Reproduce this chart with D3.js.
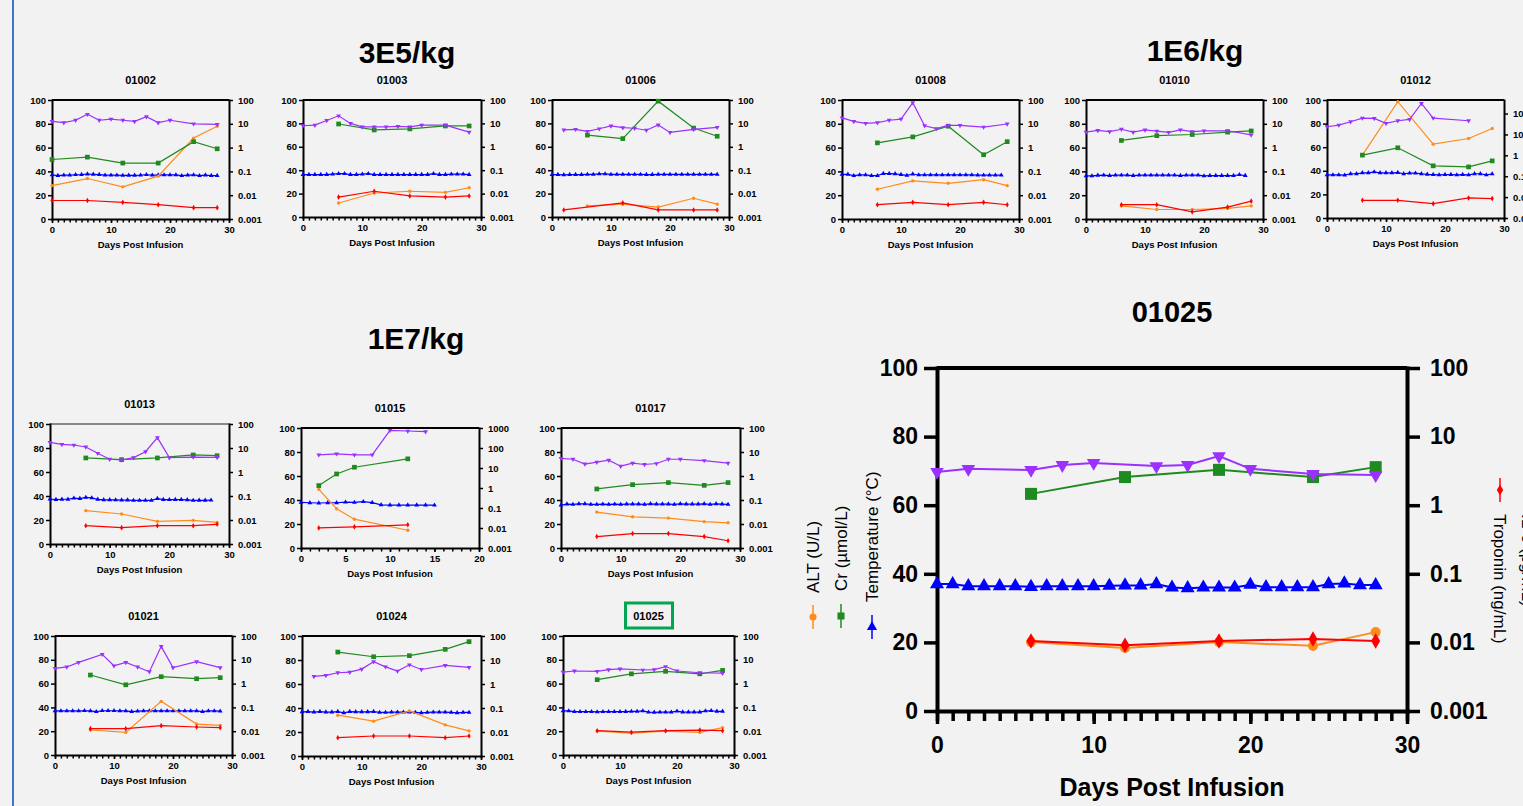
<!DOCTYPE html>
<html>
<head>
<meta charset="utf-8">
<script src="https://cdn.jsdelivr.net/npm/d3@7"></script>
<style>
  body { margin: 0; background: #f2f2f2; }
  svg { display: block; font-family: "Liberation Sans", Arial, sans-serif; }
</style>
</head>
<body>
<svg id="chart" width="1523" height="806"></svg>
<script>
// ---- data (ALT U/L, Cr umol/L, Temp C on left axis; Troponin ng/mL, IL-6 pg/mL on right log axis)
const labDays = [6, 12, 18, 24, 28];
const il6DaysStd = [0, 2, 4, 6, 8, 10, 12, 14, 16, 18, 20, 24, 28];

const labDays01002 = [0, 6, 12, 18, 24, 28];
const alt01002 = [28, 34, 27, 36, 68, 78];
const cr01002 = [50, 52, 47, 47, 65, 59];
const trop01002 = [0.006, 0.006, 0.005, 0.004, 0.003, 0.003];
const il6_01002 = [12.6, 11.2, 14.1, 25.1, 14.1, 15.8, 14.1, 12.6, 20, 11.2, 14.1, 10, 9.4];
const temp01002 = [37, 36.5, 36.8, 36.8, 37.2, 37.3, 37.8, 37.5, 37.3, 36.8, 36.8, 36.8, 36.6, 36.7, 36.7, 36.8, 37.2, 36.8, 36.9, 37, 37, 37, 36.4, 36.8, 37, 36.4, 36.9, 36.5, 36.5];

const alt01003 = [12, 20.5, 22, 21, 25];
const cr01003 = [79.5, 74.4, 75.3, 77.8, 77.8];
const trop01003 = [0.00708, 0.0126, 0.00794, 0.00708, 0.00794];
const il6_01003 = [7.94, 8.41, 13.3, 21.1, 10, 7.08, 7.08, 7.08, 7.5, 7.08, 8.41, 8.41, 4.22];
const temp01003 = [36.3, 36.3, 36.3, 36.3, 36.3, 36.6, 37, 37, 36.3, 36.3, 36.6, 37, 36.3, 36.3, 36.3, 36.3, 36.3, 36.3, 36.3, 36.3, 36.3, 36.2, 37, 36.3, 36.3, 36.6, 36.6, 36.6, 36.3];

const alt01006 = [9.5, 11, 8.5, 16, 11];
const cr01006 = [70, 67, 99, 76, 69];
const tropDays01006 = [2, 12, 18, 24, 28];
const trop01006 = [0.002, 0.004, 0.002, 0.002, 0.002];
const il6Days01006 = [2, 4, 6, 8, 10, 12, 14, 16, 18, 20, 24, 28];
const il6_01006 = [5.3, 5.6, 4.6, 5.9, 7.8, 6.6, 6.2, 5.1, 8.6, 4.1, 5.6, 6.8];
const temp01006 = [36.2, 36.2, 36, 36.2, 36.2, 36.2, 36.4, 36.4, 36.8, 36.8, 36.4, 36.4, 36.4, 36.4, 36.4, 36.4, 36.2, 36.2, 36.4, 36.4, 36.4, 36.4, 36.4, 36.4, 36.4, 36.4, 36.4, 36.4, 36.4];

const alt01008 = [25, 32, 30, 33, 28];
const cr01008 = [64, 69, 78, 54, 65];
const trop01008 = [0.00398, 0.005, 0.00398, 0.005, 0.00398];
const il6_01008 = [17.8, 12.6, 10.5, 11.2, 14.1, 15.8, 77.6, 8.3, 6.3, 8.6, 8.6, 7.3, 9.8];
const temp01008 = [37.5, 37.5, 36.4, 37, 37, 36.4, 36.4, 38.2, 38.2, 38, 37.3, 36.6, 37.8, 37, 37, 37, 37, 37, 37, 37, 37, 37, 37, 36.8, 36.8, 36.8, 36.8, 36.8];

const alt01010 = [11, 8, 8, 9, 11];
const cr01010 = [66, 70, 71, 73, 74];
const trop01010 = [0.00398, 0.00398, 0.002, 0.00316, 0.00562];
const il6_01010 = [4.47, 5.3, 4.7, 5.9, 4.47, 5.5, 4.9, 4.4, 5.6, 4.7, 5.0, 5.1, 3.4];
const temp01010 = [36.2, 36.2, 36.7, 36.8, 36.5, 36.8, 36.8, 36.8, 36.5, 36.8, 36.8, 36.8, 36.8, 36.8, 36.8, 36.8, 36.5, 36.8, 36.8, 36.8, 36.2, 36.5, 36.5, 36.5, 36.5, 36.5, 37.2, 36.5];

const alt01012 = [53.3, 98.6, 62.6, 67.4, 75.9];
const cr01012 = [53.3, 59.5, 44.2, 43.3, 48.4];
const trop01012 = [0.00705, 0.00705, 0.00487, 0.00912, 0.0085];
const il6Days01012 = [0, 2, 4, 6, 8, 10, 12, 14, 16, 18, 24];
const il6_01012 = [23.3, 28, 40.5, 60.8, 58.6, 33.7, 45.3, 52.5, 307, 60.8, 45.3];
const temp01012 = [36.5, 36.5, 36.5, 36.3, 37.5, 37.5, 38.3, 38.3, 39, 38.3, 38.3, 38.3, 38.5, 37.5, 38, 38, 37.5, 37, 36.8, 36.5, 36.8, 36.8, 36.5, 36.8, 36.5, 37.5, 37.5, 36.5, 37.3];

const alt01013 = [27.8, 25, 18.9, 19.7, 18];
const cr01013 = [71.7, 70.3, 71.7, 74.2, 73.6];
const trop01013 = [0.0058, 0.0048, 0.0058, 0.0058, 0.0066];
const il6_01013 = [17.1, 14.1, 13.3, 11, 6.0, 3.4, 3.16, 3.98, 7.0, 27, 3.98, 4.2, 4.07];
const temp01013 = [37.5, 37, 37.3, 37.3, 38.2, 37.8, 38.8, 38.4, 37.2, 36.8, 36.8, 36.7, 36.6, 36.6, 36.3, 36.3, 36.3, 36.3, 37.8, 37, 36.9, 37, 37, 36.8, 36.3, 36.4, 36.4, 36.5];

const labDays01015 = [2, 4, 6, 12];
const alt01015 = [48.9, 32.7, 24, 14.8];
const cr01015 = [52, 61.7, 67.3, 74.3];
const tropDays01015 = [2, 6, 12];
const trop01015 = [0.0101, 0.0114, 0.0144];
const il6Days01015 = [2, 4, 6, 8, 10, 12, 14];
const il6_01015 = [45.7, 51.3, 45.7, 45.7, 763, 706, 654];
const temp01015 = [38, 37.7, 37.5, 37.7, 37.7, 38.2, 38, 38.6, 37.8, 36, 35.8, 35.8, 35.8, 35.8, 35.8, 35.7];

const alt01017 = [29.9, 26, 24.9, 22, 21];
const cr01017 = [49.2, 52.8, 54.5, 52.2, 54.5];
const trop01017 = [0.003, 0.004, 0.004, 0.003, 0.002];
const il6_01017 = [5.4, 5.0, 3.16, 3.76, 4.57, 2.57, 3.43, 3.02, 3.31, 5.0, 5.0, 4.4, 3.43];
const temp01017 = [35.8, 36.6, 36.3, 36.8, 36.8, 36.3, 36.3, 36.5, 36.3, 36.5, 36.3, 36.6, 36.6, 36.6, 36.3, 36.8, 36.6, 36.6, 36.6, 36.3, 36.8, 36.6, 36.6, 36.6, 36.8, 36.3, 36.8, 36.6, 36.3];

const alt01021 = [21, 19, 45.1, 26, 24.9];
const cr01021 = [67.2, 59, 65.8, 64.1, 65];
const trop01021 = [0.0128, 0.0128, 0.0171, 0.015, 0.0141];
const il6Days01021 = [0, 2, 4, 8, 10, 12, 14, 16, 18, 20, 24, 28];
const il6_01021 = [4.4, 5.0, 7.8, 17, 5.6, 7.8, 5.0, 3.16, 36.7, 4.7, 8.3, 4.7];
const temp01021 = [37, 37, 37, 37, 37, 37.2, 37, 36.4, 37.2, 37.2, 37.2, 37, 37, 36.5, 36.8, 37, 37, 37, 37, 37, 37, 37, 37, 37, 37, 36.4, 37, 37, 36.8];

const alt01024 = [34, 29, 37.6, 25.9, 20.9];
const cr01024 = [86.6, 82.7, 83.6, 88.9, 95.3];
const trop01024 = [0.0058, 0.0068, 0.0068, 0.0058, 0.0068];
const il6Days01024 = [2, 4, 6, 8, 10, 12, 14, 16, 18, 20, 24, 28];
const il6_01024 = [2.07, 2.27, 2.95, 3.13, 4.17, 8.5, 5.2, 3.47, 6.3, 4.03, 5.96, 4.9];
const temp01024 = [36.8, 37, 36.6, 37, 36.6, 36.6, 37, 36, 37, 36.8, 36.8, 36.8, 37, 36.3, 36.3, 36.5, 36.5, 36.5, 36.5, 36.3, 36, 36.3, 36.5, 36.5, 36.5, 36.3, 36, 36.3, 36.3];

const alt01025 = [20.1, 18.4, 20.1, 19, 23];
const cr01025 = [63.3, 68.2, 70.3, 68.2, 71.1];
const trop01025 = [0.0105, 0.0091, 0.0105, 0.0112, 0.0105];
const il6Days01025 = [0, 2, 6, 8, 10, 14, 16, 18, 20, 24, 28];
const il6_01025 = [3.05, 3.39, 3.27, 3.85, 4.12, 3.72, 3.85, 5.2, 3.39, 2.85, 2.75];
const temp01025 = [37, 37, 36.4, 36.4, 36.4, 36.4, 36.2, 36.4, 36.4, 36.4, 36.4, 36.5, 36.6, 36.6, 37, 36, 35.8, 36, 36, 36, 36.8, 36.1, 36.1, 36.1, 36.1, 37, 37.2, 36.7, 36.7];

const leftTicks = [0, 20, 40, 60, 80, 100];
const rightTicks = [100, 10, 1, 0.1, 0.01, 0.001];
const rightTicks1000 = [1000, 100, 10, 1, 0.1, 0.01, 0.001];
const groupTitles = ["3E5/kg", "1E6/kg", "1E7/kg"];

const colors = { alt: "#ff8c1a", cr: "#1f8a1f", temp: "#0000ff", trop: "#ff0000", il6: "#9b30ff" };

const svg = d3.select("#chart");

// left edge marker
svg.append("line").attr("x1", 13).attr("x2", 13).attr("y1", 0).attr("y2", 806)
  .attr("stroke", "#4472c4").attr("stroke-width", 2);

const small = { axisW: 2, tickW: 1.5, tick: 4, minor: 3.5, lpad: 2, rpad: 5, xpad: 3, font: 9.5,
  titleFont: 11, titleDy: -16, xtitleFont: 9.5, xtitleDy: 29, line: 1.2,
  sq: 22, circ: 9, tri: 10, dia: 9, itri: 10 };
const big = { axisW: 4, tickW: 3.5, tick: 13, minor: 10, lpad: 6, rpad: 10, xpad: 13, font: 23,
  titleFont: 29, titleDy: -46, xtitleFont: 25, xtitleDy: 85, line: 2,
  sq: 144, circ: 80, tri: 85, dia: 70, itri: 80 };

const panels = [
  { id: "01002", box: [52, 100, 229, 219], labDays: labDays01002, tropDays: labDays01002, alt: alt01002, cr: cr01002, trop: trop01002, il6Days: il6DaysStd, il6: il6_01002, temp: temp01002 },
  { id: "01003", box: [303, 100, 481, 217], alt: alt01003, cr: cr01003, trop: trop01003, il6Days: il6DaysStd, il6: il6_01003, temp: temp01003 },
  { id: "01006", box: [552, 100, 729, 217], tropDays: tropDays01006, alt: alt01006, cr: cr01006, trop: trop01006, il6Days: il6Days01006, il6: il6_01006, temp: temp01006 },
  { id: "01008", box: [842, 100, 1019, 219], alt: alt01008, cr: cr01008, trop: trop01008, il6Days: il6DaysStd, il6: il6_01008, temp: temp01008 },
  { id: "01010", box: [1086, 100, 1263, 219], alt: alt01010, cr: cr01010, trop: trop01010, il6Days: il6DaysStd, il6: il6_01010, temp: temp01010 },
  { id: "01012", box: [1327, 100, 1504, 218], rMax: 445, alt: alt01012, cr: cr01012, trop: trop01012, il6Days: il6Days01012, il6: il6_01012, temp: temp01012 },
  { id: "01013", box: [50, 424, 229, 544], topColor: "#888", alt: alt01013, cr: cr01013, trop: trop01013, il6Days: il6DaysStd, il6: il6_01013, temp: temp01013 },
  { id: "01015", box: [301, 428, 479, 548], xMax: 20, xTicks: [0, 5, 10, 15, 20], rMax: 1000, rTicks: rightTicks1000, labDays: labDays01015, tropDays: tropDays01015, alt: alt01015, cr: cr01015, trop: trop01015, il6Days: il6Days01015, il6: il6_01015, temp: temp01015 },
  { id: "01017", box: [561, 428, 740, 548], alt: alt01017, cr: cr01017, trop: trop01017, il6Days: il6DaysStd, il6: il6_01017, temp: temp01017 },
  { id: "01021", box: [55, 636, 232, 755], alt: alt01021, cr: cr01021, trop: trop01021, il6Days: il6Days01021, il6: il6_01021, temp: temp01021 },
  { id: "01024", box: [302, 636, 481, 756], alt: alt01024, cr: cr01024, trop: trop01024, il6Days: il6Days01024, il6: il6_01024, temp: temp01024 },
  { id: "01025", box: [563, 636, 734, 755], boxed: true, alt: alt01025, cr: cr01025, trop: trop01025, il6Days: il6Days01025, il6: il6_01025, temp: temp01025 }
];

const bigPanel = { id: "01025", box: [937, 368, 1407, 711], alt: alt01025, cr: cr01025, trop: trop01025, il6Days: il6Days01025, il6: il6_01025, temp: temp01025 };

function styleAxis(a, s) {
  a.select(".domain").attr("stroke", "#000").attr("stroke-width", s.axisW).attr("stroke-linecap", "square");
  a.selectAll(".tick line").attr("stroke", "#000").attr("stroke-width", s.tickW);
  a.selectAll("text").attr("fill", "#000").style("font-size", s.font + "px").style("font-weight", "bold")
    .style("font-family", '"Liberation Sans", Arial, sans-serif');
}

function drawPanel(p, s) {
  const [x0, y0, x1, y1] = p.box;
  const xMax = p.xMax || 30;
  const g = svg.append("g");
  const x = d3.scaleLinear().domain([0, xMax]).range([x0, x1]);
  const y = d3.scaleLinear().domain([0, 100]).range([y1, y0]);
  const yr = d3.scaleLog().domain([0.001, p.rMax || 100]).range([y1, y0]);

  // top frame line
  g.append("line").attr("x1", x0).attr("x2", x1).attr("y1", y0).attr("y2", y0)
    .attr("stroke", p.topColor || "#000").attr("stroke-width", s.axisW);

  // minor day ticks
  const mn = g.append("g").attr("transform", `translate(0,${y1})`)
    .call(d3.axisBottom(x).tickValues(d3.range(0, xMax + 1)).tickSize(s.minor).tickFormat(""));
  mn.select(".domain").remove();
  mn.selectAll(".tick line").attr("stroke", "#000").attr("stroke-width", s.tickW);

  const ax = g.append("g").attr("transform", `translate(0,${y1})`)
    .call(d3.axisBottom(x).tickValues(p.xTicks || [0, 10, 20, 30]).tickSize(s.tick).tickSizeOuter(0).tickPadding(s.xpad));
  styleAxis(ax, s);

  const al = g.append("g").attr("transform", `translate(${x0},0)`)
    .call(d3.axisLeft(y).tickValues(leftTicks).tickSize(s.tick).tickSizeOuter(0).tickPadding(s.lpad));
  styleAxis(al, s);

  const ar = g.append("g").attr("transform", `translate(${x1},0)`)
    .call(d3.axisRight(yr).tickValues(p.rTicks || rightTicks).tickFormat(d => String(d))
      .tickSize(s.tick).tickSizeOuter(0).tickPadding(s.rpad));
  styleAxis(ar, s);

  function series(days, vals, scale, color, sym, size, rot) {
    const pts = days.map((d, i) => [d, vals[i]]);
    g.append("path").datum(pts)
      .attr("fill", "none").attr("stroke", color).attr("stroke-width", s.line)
      .attr("d", d3.line().x(d => x(d[0])).y(d => scale(d[1])));
    g.selectAll(null).data(pts).join("path")
      .attr("transform", d => `translate(${x(d[0])},${scale(d[1])}) rotate(${rot || 0})`)
      .attr("d", d3.symbol(sym, size)).attr("fill", color);
  }

  const ld = p.labDays || labDays;
  const tempDays = p.temp.map((v, i) => i);
  series(tempDays, p.temp, y, colors.temp, d3.symbolTriangle, s.tri);
  series(ld, p.alt, y, colors.alt, d3.symbolCircle, s.circ);
  series(ld, p.cr, y, colors.cr, d3.symbolSquare, s.sq);
  series(p.tropDays || ld, p.trop, yr, colors.trop, d3.symbolDiamond, s.dia);
  series(p.il6Days, p.il6, yr, colors.il6, d3.symbolTriangle, s.itri, 180);

  const cx = (x0 + x1) / 2;
  g.append("text").attr("x", cx).attr("y", y0 + s.titleDy).attr("text-anchor", "middle")
    .style("font-size", s.titleFont + "px").style("font-weight", "bold").text(p.id);
  if (p.boxed) {
    g.append("rect").attr("x", cx - 23).attr("y", y0 - 33).attr("width", 47).attr("height", 25)
      .attr("fill", "none").attr("stroke", "#00a651").attr("stroke-width", 3);
  }
  g.append("text").attr("x", (x(0) + x(xMax)) / 2).attr("y", y1 + s.xtitleDy).attr("text-anchor", "middle")
    .style("font-size", s.xtitleFont + "px").style("font-weight", "bold").text("Days Post Infusion");
}

panels.forEach(p => drawPanel(p, small));
drawPanel(bigPanel, big);

// group titles
const gt = [[407, 63], [1195, 61], [416, 349]];
groupTitles.forEach((t, i) => {
  svg.append("text").attr("x", gt[i][0]).attr("y", gt[i][1]).attr("text-anchor", "middle")
    .style("font-size", "30px").style("font-weight", "bold").text(t);
});

// rotated axis legends of the big chart
function legendLabel(x, yText, ySym, label, color, sym, size, rot, dir) {
  const g = svg.append("g");
  g.append("text").attr("transform", `translate(${x + (dir < 0 ? 6 : -6)},${yText}) rotate(${dir < 0 ? -90 : 90})`)
    .attr("text-anchor", "start").style("font-size", "17px").text(label);
  g.append("line").attr("x1", x).attr("x2", x).attr("y1", ySym - 12).attr("y2", ySym + 12)
    .attr("stroke", color).attr("stroke-width", 1.5);
  g.append("path").attr("transform", `translate(${x},${ySym}) rotate(${rot})`)
    .attr("d", d3.symbol(sym, size)).attr("fill", color);
}
legendLabel(813, 593, 617, "ALT (U/L)", colors.alt, d3.symbolCircle, 40, 0, -1);
legendLabel(841, 591, 616, "Cr (µmol/L)", colors.cr, d3.symbolSquare, 50, 0, -1);
legendLabel(872, 602, 627, "Temperature (°C)", colors.temp, d3.symbolTriangle, 45, 0, -1);
legendLabel(1500, 514, 490, "Troponin (ng/mL)", colors.trop, d3.symbolDiamond, 35, 0, 1);
legendLabel(1528, 514, 490, "IL-6 (pg/mL)", colors.il6, d3.symbolTriangle, 40, 180, 1);
</script>
</body>
</html>
